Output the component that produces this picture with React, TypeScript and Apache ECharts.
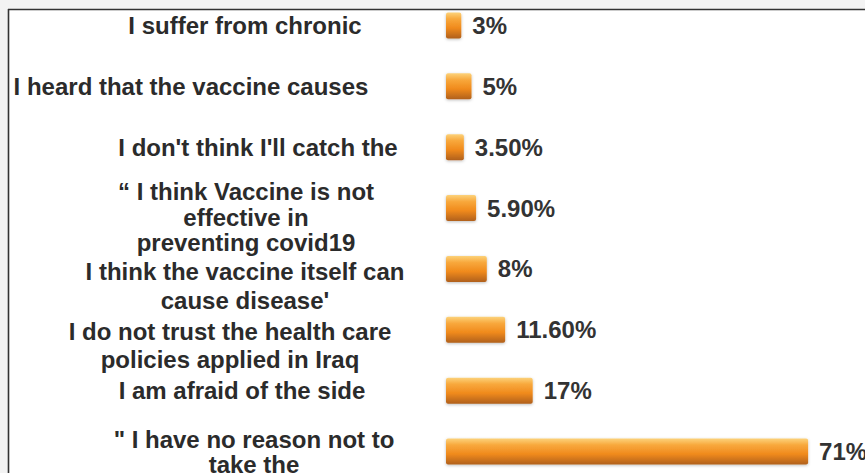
import React, { useEffect, useRef } from "react";
import * as echarts from "echarts";

// ---- data ----
const categories: string[] = [
  "I suffer from chronic",
  "I heard that the vaccine causes",
  "I don't think I'll catch the",
  "\u201C I think Vaccine is not\neffective in\npreventing covid19",
  "I think the vaccine itself can\ncause disease'",
  "I do not trust the health care\npolicies applied in Iraq",
  "I am afraid of the side",
  "\" I have no reason not to\ntake the",
];
const values: number[] = [3, 5, 3.5, 5.9, 8, 11.6, 17, 71];
const valueLabels: string[] = ["3%", "5%", "3.50%", "5.90%", "8%", "11.60%", "17%", "71%"];

// ---- label placement tweaks (layout, not data) ----
const shiftX: number[] = [0, -54, 13, 1, 0, -15, -3, 9];
const shiftY: number[] = [0, 0, 0, 9, 17, 16, 0, 0];
const lineH: number[] = [27, 27, 27, 25.5, 28.5, 28, 27, 25];

const FONT = "'Liberation Sans', Arial, sans-serif";

function buildRich() {
  const rich: Record<string, any> = {};
  categories.forEach((_, i) => {
    rich["t" + i] = {
      fontFamily: FONT,
      fontWeight: "bold",
      fontSize: 24,
      color: "#2b2b2b",
      lineHeight: lineH[i],
    };
    const h = Math.max(1, 2 * shiftY[i]);
    rich["s" + i] = { fontSize: 1, lineHeight: h, height: h, color: "rgba(0,0,0,0)" };
  });
  return rich;
}

function buildAxisData() {
  return categories.map((c, i) => {
    const sx = shiftX[i];
    const padL = sx > 0 ? 2 * sx : 0;
    const padR = sx < 0 ? -2 * sx : 0;
    return {
      value: c,
      textStyle: {
        align: "center",
        verticalAlign: "middle",
        padding: [0, padR, 0, padL],
      },
    };
  });
}

export default function App() {
  const ref = useRef<HTMLDivElement>(null);
  useEffect(() => {
    if (!ref.current) return;
    const chart = echarts.init(ref.current, null, { renderer: "svg" });
    const barGradient = new echarts.graphic.LinearGradient(0, 0, 0, 1, [
      { offset: 0, color: "#fcd27a" },
      { offset: 0.25, color: "#f8a83c" },
      { offset: 0.6, color: "#f08a1c" },
      { offset: 1, color: "#b0601c" },
    ]);
    const rich = buildRich();
    chart.setOption({
      animation: false,
      backgroundColor: "#ffffff",
      grid: {
        left: 446,
        right: 11,
        top: 0,
        bottom: 8,
        containLabel: false,
        outerBoundsMode: "none",
      },
      xAxis: {
        type: "value",
        min: 0,
        max: 80,
        show: false,
      },
      yAxis: {
        type: "category",
        data: buildAxisData(),
        inverse: true,
        axisLine: { show: false },
        axisTick: { show: false },
        splitLine: { show: false },
        axisLabel: {
          margin: 201,
          align: "center",
          verticalAlign: "middle",
          fontFamily: FONT,
          fontWeight: "bold",
          fontSize: 24,
          color: "#2b2b2b",
          hideOverlap: false,
          formatter: (val: string, idx: number) => {
            const lines = val.split("\n").map((l) => `{t${idx}|${l}}`);
            if (shiftY[idx] > 0) lines.unshift(`{s${idx}| }`);
            return lines.join("\n");
          },
          rich,
        },
      },
      series: [
        {
          type: "bar",
          data: values,
          barWidth: 26,
          itemStyle: {
            color: barGradient,
            borderRadius: 2,
            shadowBlur: 3,
            shadowColor: "rgba(0,0,0,0.25)",
            shadowOffsetY: 1,
          },
          label: {
            show: true,
            position: "right",
            distance: 11,
            fontFamily: FONT,
            fontWeight: "bold",
            fontSize: 24,
            color: "#333333",
            formatter: (p: any) => valueLabels[p.dataIndex],
          },
        },
      ],
      graphic: [
        { type: "rect", shape: { x: 0, y: 5, width: 865, height: 9 }, style: { fill: "#f3f3f3" }, silent: true, z: -10 },
        { type: "rect", shape: { x: 0, y: 5, width: 8, height: 500 }, style: { fill: "#f3f3f3" }, silent: true, z: -10 },
        { type: "rect", shape: { x: 8, y: 14, width: 857, height: 500 }, style: { fill: "#ffffff" }, silent: true, z: -9 },
        { type: "line", shape: { x1: 8, y1: 14.5, x2: 865, y2: 14.5 }, style: { stroke: "#333333", lineWidth: 1.6 }, silent: true, z: 10 },
        { type: "line", shape: { x1: 8.5, y1: 14, x2: 8.5, y2: 500 }, style: { stroke: "#333333", lineWidth: 1.6 }, silent: true, z: 10 },
      ],
    });
    return () => chart.dispose();
  }, []);
  return (
    <div
      style={{
        position: "fixed",
        left: 0,
        top: 0,
        width: 865,
        height: 473,
        overflow: "hidden",
        background: "#ffffff",
      }}
    >
      <div ref={ref} style={{ position: "absolute", left: 0, top: -5, width: 865, height: 495 }} />
    </div>
  );
}
